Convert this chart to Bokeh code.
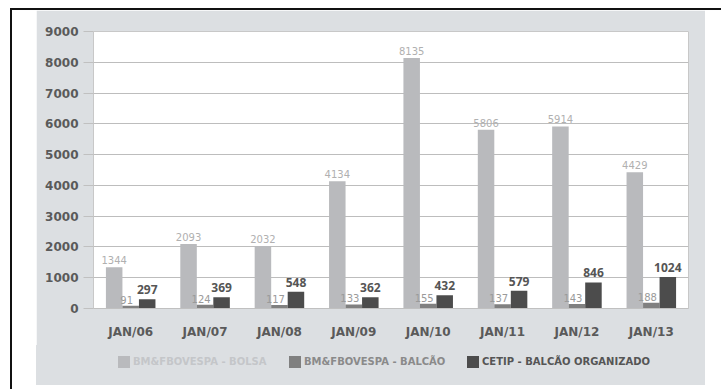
import html
from bokeh.plotting import figure
from bokeh.models import ColumnDataSource, FactorRange, Range1d, FixedTicker, Div
from bokeh.transform import dodge
from bokeh.layouts import column
from bokeh.core.properties import value
from bokeh.embed import file_html
from bokeh.resources import INLINE

categories = ["JAN/06", "JAN/07", "JAN/08", "JAN/09", "JAN/10", "JAN/11", "JAN/12", "JAN/13"]
bolsa = [1344, 2093, 2032, 4134, 8135, 5806, 5914, 4429]
balcao = [91, 124, 117, 133, 155, 137, 143, 188]
cetip = [297, 369, 548, 362, 432, 579, 846, 1024]
series_names = ["BM&FBOVESPA - BOLSA", "BM&FBOVESPA - BALCÃO", "CETIP - BALCÃO ORGANIZADO"]
y_ticks = [0, 1000, 2000, 3000, 4000, 5000, 6000, 7000, 8000, 9000]

colors = ["#b9babd", "#808080", "#4c4c4c"]
label_colors = ["#b0b0b0", "#9a9a9a", "#555555"]
legend_text_colors = ["#c4c6c9", "#8a8a8a", "#555555"]
PANEL = "#dcdfe2"
FONT = "DejaVu Sans"

src = ColumnDataSource(dict(
    cat=categories,
    bolsa=bolsa, balcao=balcao, cetip=cetip,
    bolsa_lbl=[str(v) for v in bolsa],
    balcao_lbl=[str(v) for v in balcao],
    cetip_lbl=[str(v) for v in cetip],
))

p = figure(
    x_range=FactorRange(factors=categories, range_padding=0),
    y_range=Range1d(0, 9000),
    width=669, height=335,
    min_border_left=57, min_border_right=17, min_border_top=21, min_border_bottom=37,
    output_backend="svg", toolbar_location=None,
    border_fill_color=PANEL, background_fill_color="#ffffff",
    outline_line_color="#c8c8c8",
)

W = 0.222
offs = [-W, 0.0, W]
keys = ["bolsa", "balcao", "cetip"]
for k, o, c in zip(keys, offs, colors):
    p.vbar(x=dodge("cat", o, range=p.x_range), top=k, width=W, bottom=0,
           source=src, fill_color=c, line_color=None)

# value labels
p.text(x=dodge("cat", offs[0], range=p.x_range), y="bolsa", text="bolsa_lbl", source=src,
       text_align="center", text_baseline="bottom", y_offset=-3,
       text_font=value(FONT), text_font_size="10px", text_color=label_colors[0])
p.text(x=dodge("cat", offs[1], range=p.x_range), y="balcao", text="balcao_lbl", source=src,
       text_align="center", text_baseline="bottom", x_offset=-4, y_offset=-2,
       text_font=value(FONT), text_font_size="10px", text_color=label_colors[1])
p.text(x=dodge("cat", offs[2], range=p.x_range), y="cetip", text="cetip_lbl", source=src,
       text_align="center", text_baseline="bottom", y_offset=-5,
       text_font=value("Open Sans"), text_font_size="12px", text_font_style="bold",
       text_color=label_colors[2])

# axes
p.yaxis.ticker = FixedTicker(ticks=y_ticks)
p.yaxis.axis_line_color = None
p.yaxis.major_tick_line_color = "#c0c0c0"
p.yaxis.major_tick_out = 10
p.yaxis.major_tick_in = 0
p.yaxis.minor_tick_line_color = None
p.yaxis.major_label_text_font = FONT
p.yaxis.major_label_text_font_style = "bold"
p.yaxis.major_label_text_font_size = "12px"
p.yaxis.major_label_text_color = "#5a5a5a"
p.yaxis.major_label_standoff = 5

p.xaxis.axis_line_color = "#c0c0c0"
p.xaxis.major_tick_line_color = None
p.xaxis.major_tick_out = 0
p.xaxis.major_tick_in = 0
p.xaxis.major_label_text_font = FONT
p.xaxis.major_label_text_font_style = "bold"
p.xaxis.major_label_text_font_size = "12px"
p.xaxis.major_label_text_color = "#5a5a5a"
p.xaxis.major_label_standoff = 16

p.xgrid.grid_line_color = None
p.ygrid.grid_line_color = "#bdbdbd"
p.ygrid.grid_line_width = 1

# legend strip as HTML (real text)
leg_x = [82, 253, 431]
parts = []
for name, c, tc, lx in zip(series_names, colors, legend_text_colors, leg_x):
    parts.append(
        f'<div style="position:absolute;left:{lx}px;top:10px;white-space:nowrap;'
        f'display:flex;align-items:center;height:14px;">'
        f'<span style="display:inline-block;width:12px;height:12px;background:{c};"></span>'
        f'<span style="color:{tc};margin-left:3px;">{html.escape(name)}</span></div>'
    )
legend_html = (
    f'<div style="position:relative;width:669px;height:40px;background:{PANEL};'
    f"font-family:'DejaVu Sans';font-weight:bold;font-size:10px;line-height:14px;\">"
    + "".join(parts) + "</div>"
)
legend_div = Div(text=legend_html, width=669, height=40, margin=0,
                 styles={"background-color": PANEL})

layout = column(p, legend_div, margin=(8, 0, 0, 10), spacing=0,
                styles={"border-left": "2px solid #111111", "border-top": "2px solid #111111",
                        "padding-left": "24px", "padding-right": "16px", "padding-bottom": "4px"})

open("out.html", "w").write(file_html(layout, INLINE))
